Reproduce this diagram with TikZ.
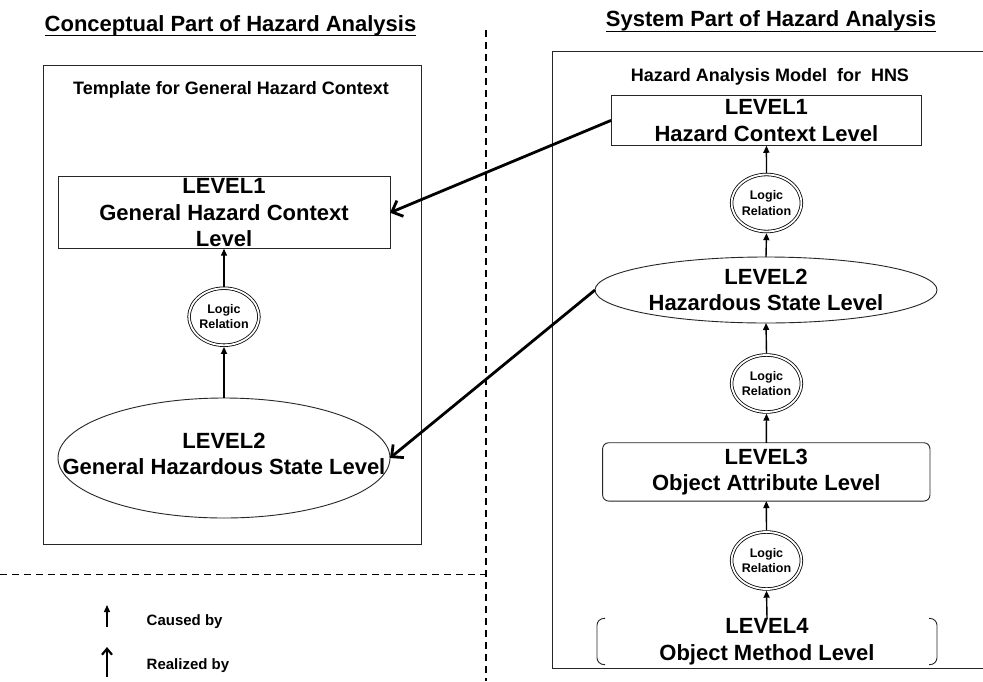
\documentclass[tikz,border=0pt]{standalone}
\usepackage{fontspec}
\setmainfont{Liberation Sans}
\usetikzlibrary{arrows.meta,shapes.geometric}
\begin{document}
\begin{tikzpicture}[x=1pt,y=-1pt,
  every node/.style={inner sep=0pt, outer sep=0pt},
  lvl/.style={font=\bfseries\fontsize{22}{26.5}\selectfont, align=center},
  ttl/.style={font=\bfseries\fontsize{22}{26}\selectfont, anchor=base},
  sub/.style={font=\bfseries\fontsize{18}{22}\selectfont, anchor=base},
  leg/.style={font=\bfseries\fontsize{15}{18}\selectfont, anchor=base west},
  box/.style={draw=black!85, line width=0.9pt},
  logic/.style={ellipse, draw, double, double distance=1.8pt, line width=0.8pt,
    minimum width=60pt, minimum height=57pt, outer sep=1.7pt,
    font=\bfseries\fontsize{12.5}{15.5}\selectfont, align=center},
  cause/.style={line width=1.4pt, -{Triangle[length=7pt,width=6pt]}},
  realize/.style={line width=2.8pt, -{Straight Barb[length=9pt,width=17pt]}},
  realizeleg/.style={line width=2.2pt, -{Straight Barb[length=6pt,width=10pt]}},
  sep/.style={line width=1.2pt, dash pattern=on 7pt off 5pt},
]
\fill[white] (0,0) rectangle (983,681);
\useasboundingbox (0,0) rectangle (983,681);

% separators
\draw[sep] (486,30) -- (486,681);
\draw[sep] (0,574.3) -- (486,574.3);

% titles
\node[ttl] (lt) at (230.5,31.7) {Conceptual Part of Hazard Analysis};
\draw[line width=1.1pt] ([yshift=-4pt]lt.base west) -- ([yshift=-4pt]lt.base east);
\node[ttl] (rt) at (771,26.5) {System Part of Hazard Analysis};
\draw[line width=1.1pt] ([yshift=-5pt]rt.base west) -- ([yshift=-5pt]rt.base east);

% left part
\draw[box] (43,65.7) rectangle (421,544);
\node[sub] (tpl) at (231,94.3) {Template for General Hazard Context};
\node[lvl, box, minimum width=332pt, minimum height=72pt] (ll1) at (224,212.7) {LEVEL1\\General Hazard Context\\Level};
\node[logic] (lc) at (224,316.7) {Logic\\Relation};
\node[ellipse, box, minimum width=332pt, minimum height=120pt] (le2) at (224,458) {};
\node[lvl] (le2t) at (224,453.7) {LEVEL2\\General Hazardous State Level};
\draw[cause] (lc.north) -- (ll1.south);
\draw[cause] (le2.north) -- (lc.south);

% right part
\draw[box] (983,51) -- (552,51) -- (552,668) -- (983,668);
\node[sub] (hns) at (770,81.7) {Hazard Analysis Model\ \ for\ \ HNS};
\node[lvl, box, minimum width=310.7pt, minimum height=50.7pt] (rl1) at (766.4,120.4) {LEVEL1\\Hazard Context Level};
\node[logic] (rc1) at (766.5,203) {Logic\\Relation};
\node[lvl, ellipse, box, minimum width=342pt, minimum height=66pt] (re2) at (766,290) {LEVEL2\\Hazardous State Level};
\node[logic] (rc2) at (766.5,383.5) {Logic\\Relation};
\node[lvl, box, rounded corners=6pt, minimum width=327.3pt, minimum height=58.3pt] (rl3) at (766.3,471.9) {LEVEL3\\Object Attribute Level};
\node[logic] (rc3) at (766.5,560.5) {Logic\\Relation};
\node[lvl, minimum width=340pt, minimum height=43pt] (rl4) at (767,641.5) {LEVEL4\\Object Method Level};
\draw[draw=black!85, line width=0.9pt, rounded corners=7pt]
  ([xshift=8pt]rl4.north west) -- (rl4.north west) -- (rl4.south west) -- ([xshift=8pt]rl4.south west);
\draw[draw=black!85, line width=0.9pt, rounded corners=7pt]
  ([xshift=-8pt]rl4.north east) -- (rl4.north east) -- (rl4.south east) -- ([xshift=-8pt]rl4.south east);

\draw[cause] (rc1.north) -- (rl1.south);
\draw[cause] (re2.north) -- (rc1.south);
\draw[cause] (rc2.north) -- (re2.south);
\draw[cause] (rl3.north) -- (rc2.south);
\draw[cause] (rc3.north) -- (rl3.south);
\draw[cause] (rl4.north) -- (rc3.south);

% realization arrows
\draw[realize] (rl1.west) -- (ll1.east);
\draw[realize] (re2.west) -- (le2.east);

% legend
\coordinate (c1a) at (107,627);
\coordinate (c1b) at (107,605);
\draw[cause] (c1a) -- (c1b);
\node[leg] (cb) at (146.7,625) {Caused by};
\coordinate (c2a) at (107,677);
\coordinate (c2b) at (107,647);
\draw[realizeleg] (c2a) -- (c2b);
\node[leg] (rb) at (146.7,669.3) {Realized by};
\end{tikzpicture}
\end{document}
